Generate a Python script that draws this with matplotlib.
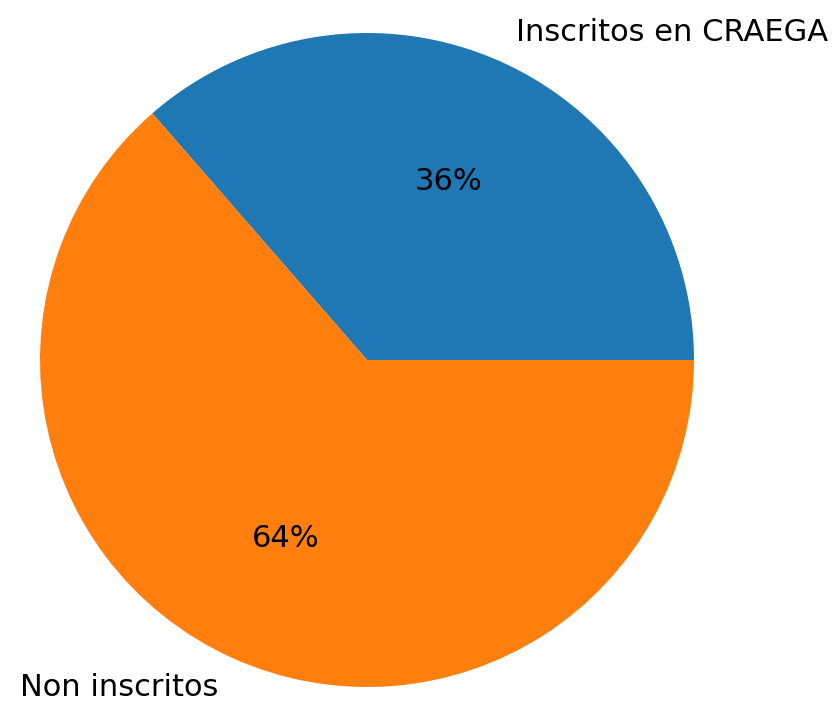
import matplotlib
matplotlib.use('Agg')
import matplotlib.pyplot as plt

labels = ['Inscritos en CRAEGA', 'Non inscritos']
sizes = [36.4, 63.6]

fig = plt.figure(figsize=(8.35, 7.07), dpi=100)
ax = fig.add_axes([0, 0, 1, 1])

ax.pie(sizes, labels=labels, autopct='%1.0f%%',
       textprops={'fontsize': 22})

# radio ~327 px, centro en (367, 360) desde arriba
r = 327.0
ax.set_xlim(-367 / r, (835 - 367) / r)
ax.set_ylim(-(707 - 360) / r, 360 / r)
ax.set_aspect('auto')
ax.axis('off')

fig.savefig('out.png', dpi=100)
